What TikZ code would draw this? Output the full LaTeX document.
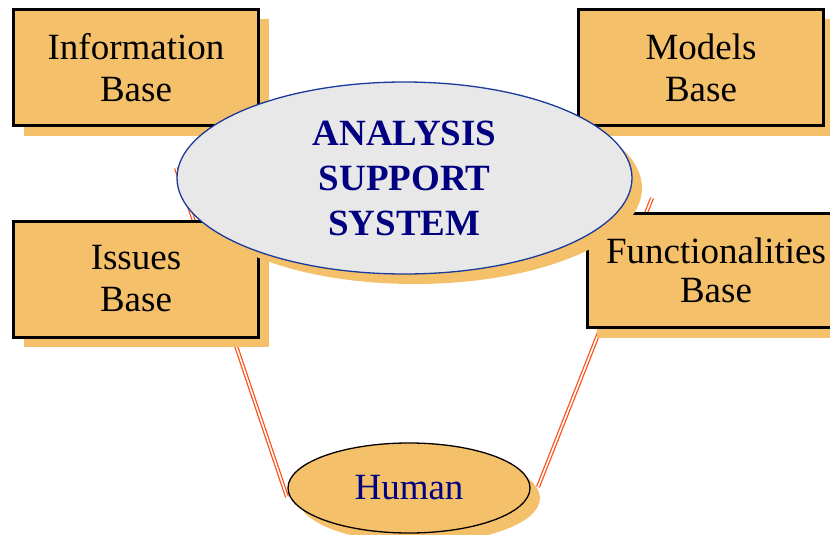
\documentclass[tikz,border=0pt]{standalone}
\usepackage{fontspec}
\setmainfont{Liberation Serif}
\usetikzlibrary{shapes.geometric,shadows,backgrounds}
\definecolor{boxfill}{HTML}{F5C06A}
\definecolor{anafill}{HTML}{E8E8E8}
\definecolor{anaborder}{HTML}{1A3A9C}
\definecolor{txtnavy}{HTML}{000080}
\definecolor{linkred}{HTML}{FF4A10}
\begin{document}
\begin{tikzpicture}[x=1pt,y=-1pt,
  orangeshadow/.style={drop shadow={fill=boxfill,opacity=1,shadow xshift=10pt,shadow yshift=-10pt}},
  basebox/.style={rectangle,draw=black,line width=3pt,fill=boxfill,orangeshadow,
    minimum width=245pt,minimum height=116pt,inner sep=0pt,align=center,
    font=\fontsize{37}{42}\selectfont},
  anaell/.style={ellipse,draw=anaborder,line width=1.3pt,fill=anafill,orangeshadow,
    minimum width=455pt,minimum height=192pt,inner sep=0pt,align=center,
    text=txtnavy,font=\fontsize{37}{45}\selectfont\bfseries},
  humanell/.style={ellipse,draw=black,line width=1.3pt,fill=boxfill,orangeshadow,
    minimum width=242pt,minimum height=90pt,inner sep=0pt,
    text=txtnavy,font=\fontsize{37}{42}\selectfont},
  link/.style={draw=linkred,double=white,line width=1.2pt,double distance=1.6pt}]
\clip (0,0) rectangle (830,535);
\node[basebox] (info) at (136,67.5) {Information\\Base};
\node[basebox] (models) at (701,67.5) {Models\\Base};
\node[basebox] (issues) at (136,279) {Issues\\Base};
\node[basebox,minimum width=257.5pt,minimum height=114pt,font=\fontsize{37}{39}\selectfont] (func) at (716,270.5) {Functionalities\\Base\hspace{12pt}};
\node[anaell] (ana) at (404.5,178) {ANALYSIS\\SUPPORT\\SYSTEM};
\node[humanell] (human) at (409,488) {Human};
\coordinate (la) at (176,168);
\coordinate (lh) at (287,497);
\coordinate (ra) at (652,198);
\coordinate (rh) at (538,487);
\begin{scope}[on background layer]
\draw[link] (la) -- (lh);
\draw[link] (ra) -- (rh);
\end{scope}
\end{tikzpicture}
\end{document}
